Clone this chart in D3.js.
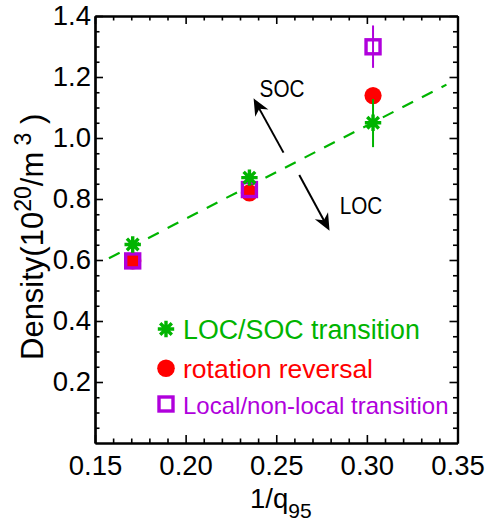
<!DOCTYPE html>
<html><head><meta charset="utf-8">
<script src="https://cdn.jsdelivr.net/npm/d3@7"></script>
<style>
body{margin:0;background:#fff;}
svg{display:block;font-family:"Liberation Sans",Arial,Helvetica,sans-serif;}
</style></head>
<body><svg id="c" width="489" height="526"></svg>
<script>
// ---- data ----
const xTicks = [0.15, 0.20, 0.25, 0.30, 0.35];
const xTickLabels = ["0.15", "0.20", "0.25", "0.30", "0.35"];
const yTicks = [0.2, 0.4, 0.6, 0.8, 1.0, 1.2, 1.4];
const yTickLabels = ["0.2", "0.4", "0.6", "0.8", "1.0", "1.2", "1.4"];

const locX = [0.1708, 0.2352, 0.3034];
const locY = [0.651, 0.870, 1.050];
const locErrLo = [null, null, 0.970];
const locErrHi = [null, null, 1.128];

const rotX = [0.1708, 0.2352, 0.3034];
const rotY = [0.597, 0.820, 1.139];

const nlX = [0.1708, 0.2352, 0.3034];
const nlY = [0.597, 0.831, 1.299];
const nlErrLo = [null, null, 1.230];
const nlErrHi = [null, null, 1.369];

const fitX = [0.1577, 0.3439];
const fitY = [0.6056, 1.175];

const arrowLabels = ["SOC", "LOC"];
const arrowFromX = [0.2540, 0.2627];
const arrowFromY = [0.952, 0.879];
const arrowToX = [0.2375, 0.2794];
const arrowToY = [1.130, 0.696];
const arrowLabelX = [0.2408, 0.2850];
const arrowLabelY = [1.135, 0.751];

const legendLabels = ["LOC/SOC transition", "rotation reversal", "Local/non-local transition"];

// ---- styles ----
const GREEN = "#00b400", RED = "#ff0000", PURPLE = "#b000dc";

const svg = d3.select("#c");
const L = 95, R = 457.5, T = 16, B = 443;
const x = d3.scaleLinear().domain([0.15, 0.35]).range([L, R]);
const y = d3.scaleLinear().domain([0, 1.4]).range([B, T]);

const xMinor = d3.range(0, 21).map(i => 0.15 + i * 0.01).filter(v => !xTicks.some(t => Math.abs(t - v) < 1e-9));
const yMinor = d3.range(0, 29).map(i => i * 0.05).filter(v => !yTicks.some(t => Math.abs(t - v) < 1e-9) && v > 0.001);

function styleAxis(g) {
  g.selectAll("path.domain").attr("stroke", "#000").attr("stroke-width", 2.2);
  g.selectAll(".tick line").attr("stroke", "#000").attr("stroke-width", 1.6);
  g.selectAll("text").attr("font-size", 27.5).attr("fill", "#000").attr("font-family", "Liberation Sans, Arial, sans-serif");
}

// bottom
svg.append("g").attr("transform", `translate(0,${B})`)
  .call(d3.axisBottom(x).tickValues(xTicks).tickFormat((d, i) => xTickLabels[i]).tickSizeInner(-8).tickSizeOuter(0).tickPadding(12.5))
  .call(styleAxis);
svg.append("g").attr("transform", `translate(0,${B})`)
  .call(d3.axisBottom(x).tickValues(xMinor).tickFormat("").tickSizeInner(-4.5).tickSizeOuter(0))
  .call(styleAxis);
// top
svg.append("g").attr("transform", `translate(0,${T})`)
  .call(d3.axisTop(x).tickValues(xTicks).tickFormat("").tickSizeInner(-8).tickSizeOuter(0))
  .call(styleAxis);
svg.append("g").attr("transform", `translate(0,${T})`)
  .call(d3.axisTop(x).tickValues(xMinor).tickFormat("").tickSizeInner(-4.5).tickSizeOuter(0))
  .call(styleAxis);
// left
svg.append("g").attr("transform", `translate(${L},0)`)
  .call(d3.axisLeft(y).tickValues(yTicks).tickFormat((d, i) => yTickLabels[i]).tickSizeInner(-8).tickSizeOuter(0).tickPadding(4))
  .call(styleAxis);
svg.append("g").attr("transform", `translate(${L},0)`)
  .call(d3.axisLeft(y).tickValues(yMinor).tickFormat("").tickSizeInner(-4.5).tickSizeOuter(0))
  .call(styleAxis);
// right
svg.append("g").attr("transform", `translate(${R},0)`)
  .call(d3.axisRight(y).tickValues(yTicks).tickFormat("").tickSizeInner(-8).tickSizeOuter(0))
  .call(styleAxis);
svg.append("g").attr("transform", `translate(${R},0)`)
  .call(d3.axisRight(y).tickValues(yMinor).tickFormat("").tickSizeInner(-4.5).tickSizeOuter(0))
  .call(styleAxis);

// axis titles
const xt = svg.append("text").attr("x", 250).attr("y", 508).attr("font-size", 27.5).attr("fill", "#000");
xt.append("tspan").text("1/q");
xt.append("tspan").attr("font-size", 21).attr("dy", 10).text("95");

const yt = svg.append("text").attr("transform", "translate(43,360) rotate(-90)").attr("font-size", 31).attr("fill", "#000");
yt.append("tspan").text("Density(10");
yt.append("tspan").attr("font-size", 23).attr("dy", -12).text("20");
yt.append("tspan").attr("dy", 12).text("/m");
yt.append("tspan").attr("font-size", 23).attr("dy", -12).text(" 3");
yt.append("tspan").attr("dy", 12).text(" )");

// fit line
const plot = svg.append("g");
plot.append("path")
  .datum(fitX.map((v, i) => [v, fitY[i]]))
  .attr("d", d3.line().x(d => x(d[0])).y(d => y(d[1])))
  .attr("fill", "none").attr("stroke", GREEN).attr("stroke-width", 2.2)
  .attr("stroke-dasharray", "12,10");

// asterisk path
function asterisk(s) {
  const d = s * Math.SQRT1_2;
  return `M${-s},0L${s},0M0,${-s}L0,${s}M${-d},${-d}L${d},${d}M${-d},${d}L${d},${-d}`;
}

// red circles
plot.selectAll("circle.rot").data(rotX.map((v, i) => [v, rotY[i]])).join("circle")
  .attr("cx", d => x(d[0])).attr("cy", d => y(d[1])).attr("r", 8.6).attr("fill", RED);

// purple squares + error bars
nlX.forEach((v, i) => {
  if (nlErrLo[i] != null) {
    plot.append("line").attr("x1", x(v)).attr("x2", x(v)).attr("y1", y(nlErrLo[i])).attr("y2", y(nlErrHi[i]))
      .attr("stroke", PURPLE).attr("stroke-width", 2);
  }
});
plot.selectAll("rect.nl").data(nlX.map((v, i) => [v, nlY[i]])).join("rect")
  .attr("x", d => x(d[0]) - 7).attr("y", d => y(d[1]) - 7).attr("width", 14).attr("height", 14)
  .attr("fill", "none").attr("stroke", PURPLE).attr("stroke-width", 3.4);

// green asterisks + error bars
locX.forEach((v, i) => {
  if (locErrLo[i] != null) {
    plot.append("line").attr("x1", x(v)).attr("x2", x(v)).attr("y1", y(locErrLo[i])).attr("y2", y(locErrHi[i]))
      .attr("stroke", GREEN).attr("stroke-width", 2);
  }
});
plot.selectAll("path.loc").data(locX.map((v, i) => [v, locY[i]])).join("path")
  .attr("transform", d => `translate(${x(d[0])},${y(d[1])})`)
  .attr("d", asterisk(8.2)).attr("stroke", GREEN).attr("stroke-width", 3.4).attr("fill", "none");

// arrows
arrowLabels.forEach((lab, i) => {
  const x1 = x(arrowFromX[i]), y1 = y(arrowFromY[i]), x2 = x(arrowToX[i]), y2 = y(arrowToY[i]);
  const ang = Math.atan2(y2 - y1, x2 - x1);
  const ux = Math.cos(ang), uy = Math.sin(ang);
  svg.append("line").attr("x1", x1).attr("y1", y1).attr("x2", x2 - ux * 10).attr("y2", y2 - uy * 10)
    .attr("stroke", "#000").attr("stroke-width", 2);
  svg.append("path").attr("d", "M0,0L-17,-7.5L-12,0L-17,7.5Z")
    .attr("transform", `translate(${x2},${y2}) rotate(${ang * 180 / Math.PI})`).attr("fill", "#000");
  svg.append("text").attr("transform", `translate(${x(arrowLabelX[i])},${y(arrowLabelY[i])}) scale(0.9,1)`)
    .attr("font-size", 23).attr("fill", "#000").text(lab);
});

// legend
const legY = [329, 368.3, 404];
const legSize = [26.8, 26.5, 24];
const legColor = [GREEN, RED, PURPLE];
const leg = svg.append("g");
legendLabels.forEach((lab, i) => {
  const cx = 166, cy = legY[i];
  if (i === 0) leg.append("path").attr("transform", `translate(${cx},${cy})`).attr("d", asterisk(8.2)).attr("stroke", GREEN).attr("stroke-width", 3.4).attr("fill", "none");
  if (i === 1) leg.append("circle").attr("cx", cx).attr("cy", cy).attr("r", 8.8).attr("fill", RED);
  if (i === 2) leg.append("rect").attr("x", cx - 7).attr("y", cy - 7).attr("width", 14).attr("height", 14).attr("fill", "none").attr("stroke", PURPLE).attr("stroke-width", 3.4);
  leg.append("text").attr("x", 183).attr("y", cy + 9.5).attr("font-size", legSize[i]).attr("fill", legColor[i]).text(lab);
});
</script></body></html>
